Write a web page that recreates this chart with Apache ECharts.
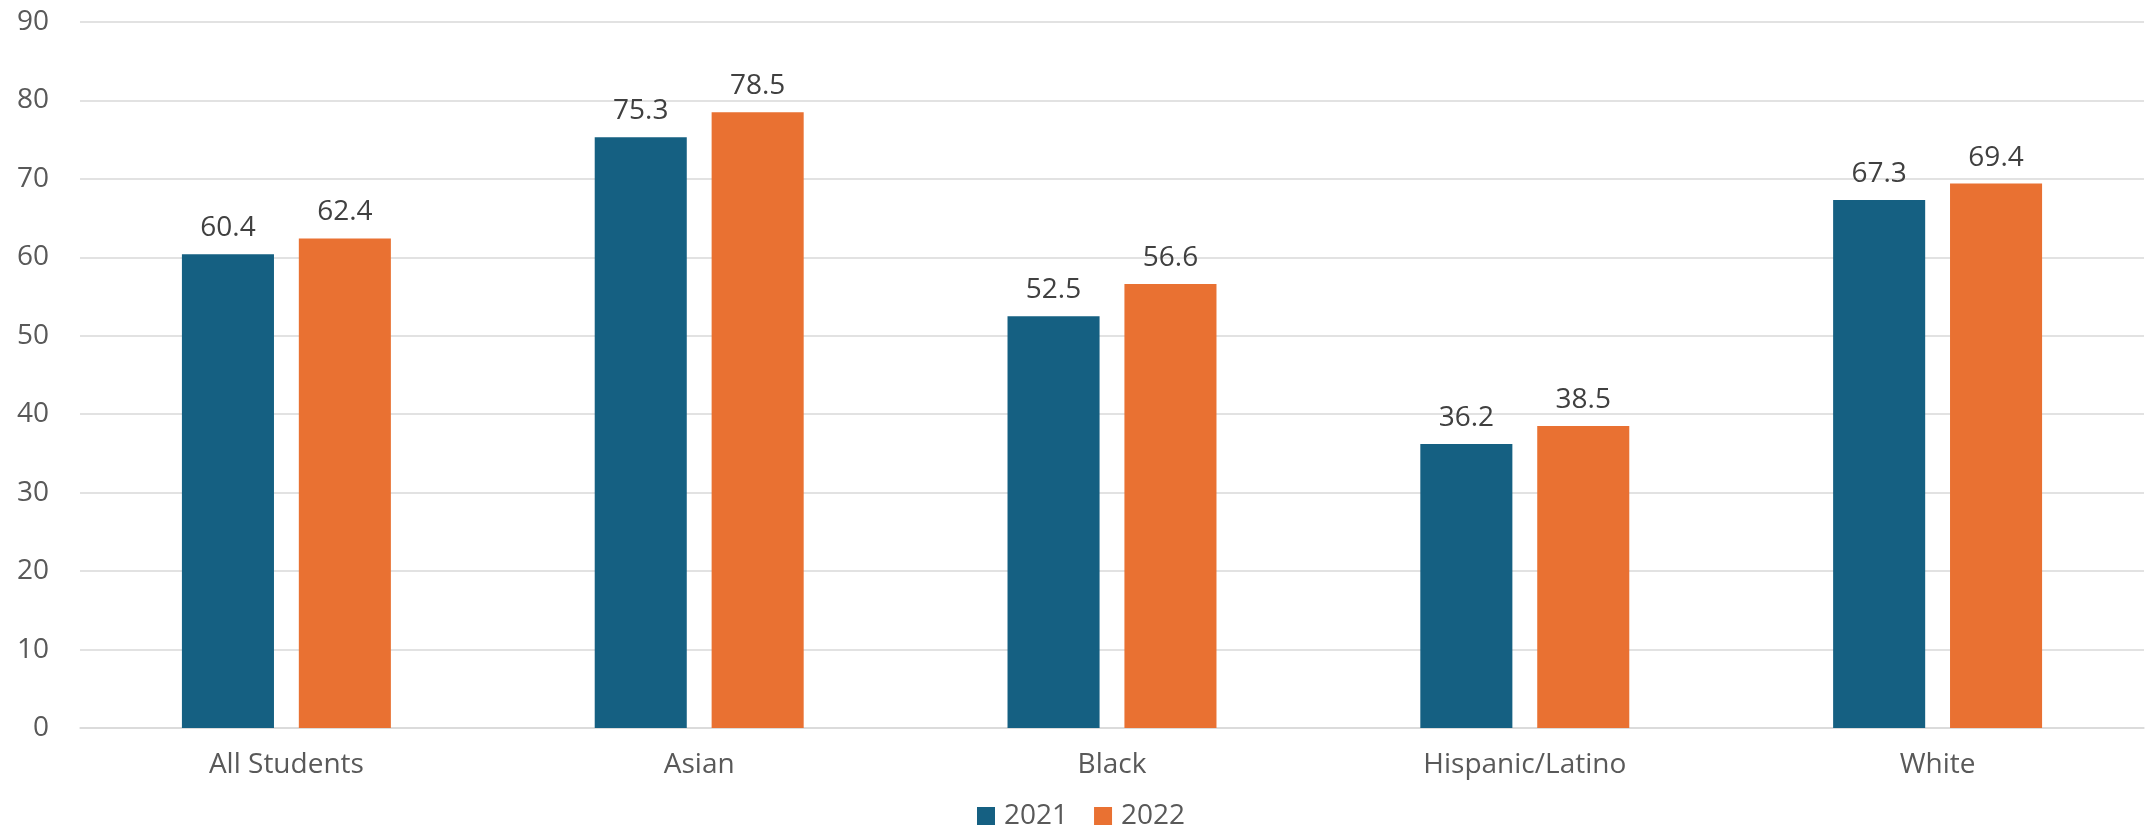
<!DOCTYPE html>
<html>
<head>
<meta charset="utf-8">
<script src="https://cdn.jsdelivr.net/npm/echarts@6/dist/echarts.min.js"></script>
<style>html,body{margin:0;padding:0;background:#fff}#c{width:2148px;height:825px}</style>
</head>
<body>
<div id="c"></div>
<script>
const categories = ["All Students", "Asian", "Black", "Hispanic/Latino", "White"];
const values2021 = [60.4, 75.3, 52.5, 36.2, 67.3];
const values2022 = [62.4, 78.5, 56.6, 38.5, 69.4];
const seriesNames = ["2021", "2022"];

const FONT = "'Open Sans', 'Liberation Sans', sans-serif";
const chart = echarts.init(document.getElementById('c'));
const labelStyle = {
  show: true, position: 'top', distance: 12,
  fontFamily: FONT, fontSize: 28, color: '#404040',
  formatter: p => p.value.toFixed(1)
};
chart.setOption({
  animation: false,
  textStyle: { fontFamily: FONT },
  grid: { left: 80, right: 4, top: 22, bottom: 97, containLabel: false },
  legend: {
    data: seriesNames,
    left: 972, top: 797,
    itemWidth: 18, itemHeight: 18, itemGap: 26,
    icon: 'rect',
    textStyle: { fontFamily: FONT, fontSize: 28, color: '#595959', padding: [0, 0, 0, 4] }
  },
  xAxis: {
    type: 'category', data: categories,
    axisLine: { show: true, lineStyle: { color: '#d9d9d9', width: 1.5 } },
    axisTick: { show: false },
    axisLabel: { fontFamily: FONT, fontSize: 28, color: '#595959', margin: 23 }
  },
  yAxis: {
    type: 'value', min: 0, max: 90, interval: 10,
    axisLine: { show: false }, axisTick: { show: false },
    splitLine: { lineStyle: { color: '#d9d9d9', width: 1.5 } },
    axisLabel: { fontFamily: FONT, fontSize: 28, color: '#595959', margin: 31 }
  },
  series: [
    { name: seriesNames[0], type: 'bar', data: values2021, barWidth: '22.3%', barGap: '27%',
      itemStyle: { color: '#156082' }, label: labelStyle },
    { name: seriesNames[1], type: 'bar', data: values2022, barWidth: '22.3%', barGap: '27%',
      itemStyle: { color: '#E97132' }, label: labelStyle }
  ]
});
</script>
</body>
</html>
